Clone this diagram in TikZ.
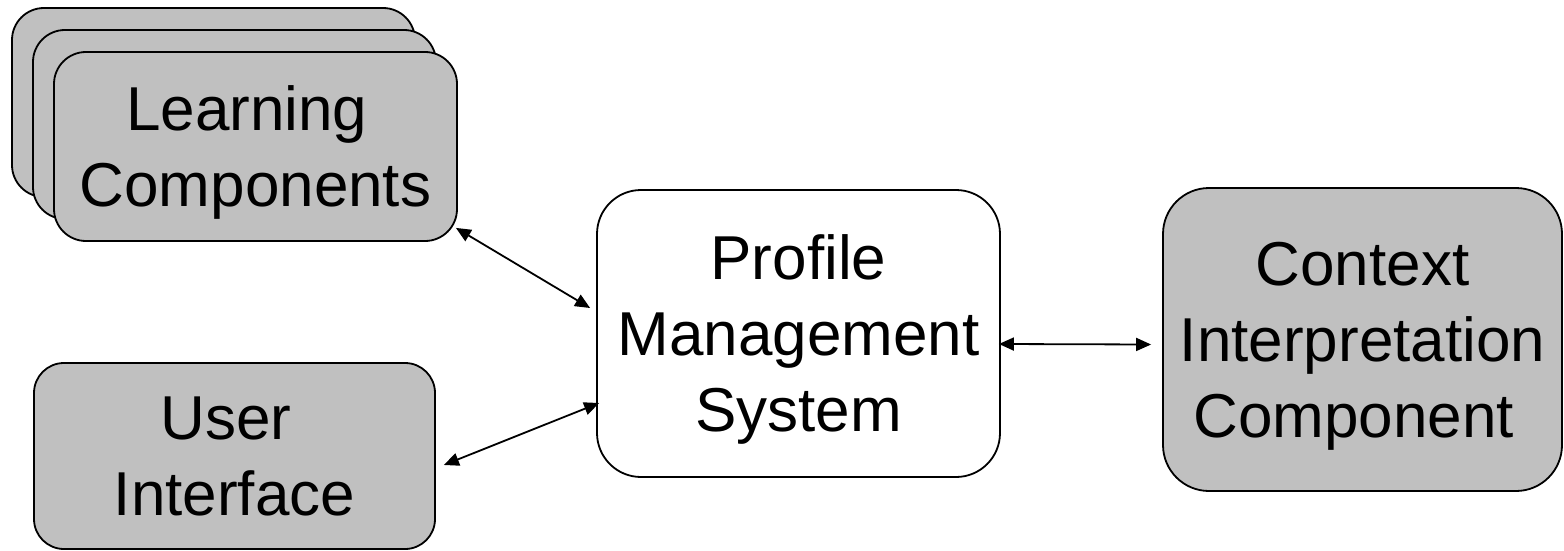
\documentclass[tikz,border=0pt]{standalone}
\usepackage{fontspec}
\setmainfont{Liberation Sans}
\usetikzlibrary{arrows.meta,calc}
\definecolor{boxgray}{HTML}{C0C0C0}
\newcommand{\trail}{\kern0.278em}
\tikzset{
  card/.style={draw=black, line width=1.8pt, fill=boxgray, inner sep=0pt,
    align=center, text depth=0pt, font=\fontsize{62}{76}\selectfont},
  plaincard/.style={card, fill=white},
  link/.style={line width=1.8pt, {Triangle[length=15pt,width=13pt]}-{Triangle[length=15pt,width=13pt]}}
}
\begin{document}
\begin{tikzpicture}[x=1pt,y=-1pt]
\useasboundingbox (0,0) rectangle (1564,551);

% stack of learning components
\node[card, minimum width=403pt, minimum height=189pt, rounded corners=32pt] (lc3) at (213.5,102.5) {};
\node[card, minimum width=403pt, minimum height=189pt, rounded corners=32pt] (lc2) at (234.5,124.5) {};
\node[card, minimum width=403pt, minimum height=189pt, rounded corners=32pt] (lc1) at (255.5,146.5) {Learning\trail\\Components};

% user interface
\node[card, minimum width=401pt, minimum height=186pt, rounded corners=30pt] (ui) at (234.5,456) {User\trail\\Interface};

% profile management system
\node[plaincard, minimum width=403pt, minimum height=287pt, rounded corners=44pt] (pms) at (798.5,333.5) {Profile\\Management\\System};

% context interpretation component
\node[card, minimum width=399pt, minimum height=303pt, rounded corners=46pt] (cic) at (1362.5,339.5) {Context\\Interpretation\\Component\trail};

% connectors
\draw[link] ($(lc1.south east)+(-2,-14)$) -- ($(pms.west)+(-6,-25.5)$);
\draw[link] ($(ui.east)+(8,9)$) -- ($(pms.west)+(3,69.5)$);
\draw[link] ($(pms.east)+(-2,10.5)$) -- ($(cic.west)+(-11,5)$);
\end{tikzpicture}
\end{document}
